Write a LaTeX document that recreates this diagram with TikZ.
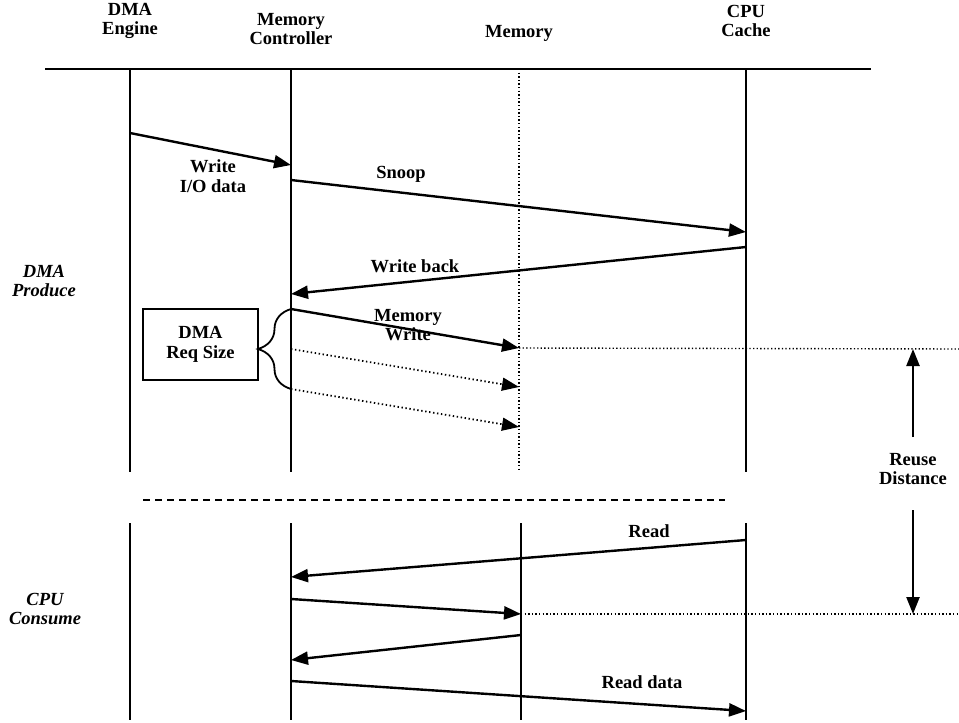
\documentclass[tikz,border=0pt]{standalone}
\usepackage{fontspec}
\setmainfont{Liberation Serif}
\usetikzlibrary{arrows.meta,decorations.pathreplacing}

\begin{document}
\begin{tikzpicture}[x=1pt,y=-1pt,>={Triangle[length=17pt,width=13pt]},
  font=\fontsize{18.5}{19.5}\selectfont\bfseries,
  life/.style={line width=1.8pt},
  msg/.style={->,line width=2.4pt},
  dotmsg/.style={->,line width=1.8pt,dash pattern=on 1.4pt off 2.6pt},
  guide/.style={line width=1.4pt,dash pattern=on 1.3pt off 2.3pt},
  txt/.style={align=center,inner sep=0pt}]
  \useasboundingbox (0,0) rectangle (959,723);

  % 标题
  \node[txt] (hdma) at (130,21) {DMA\\Engine};
  \node[txt] (hmc)  at (291,29) {Memory\\Controller};
  \node[txt] (hmem) at (519,33) {Memory};
  \node[txt] (hcpu) at (746,21) {CPU\\Cache};
  \draw[line width=2.4pt] (45,69) -- (871,69);

  % 生命线
  \draw[life] (130,69) -- (130,472);
  \draw[life] (291,69) -- (291,472);
  \draw[guide] (519,69) -- (519,471);
  \draw[life] (746,69) -- (746,472);
  \draw[line width=1.6pt,dash pattern=on 7pt off 5pt] (143,500) -- (725,500);
  \draw[life] (130,523) -- (130,720);
  \draw[life] (291,523) -- (291,720);
  \draw[life] (521,523) -- (521,720);
  \draw[life] (746,523) -- (746,720);

  % 左侧阶段
  \node[txt,font=\fontsize{18.5}{19.5}\selectfont\bfseries\itshape] (prod) at (44,281) {DMA\\Produce};
  \node[txt,font=\fontsize{18.5}{19.5}\selectfont\bfseries\itshape] (cons) at (45,609) {CPU\\Consume};

  % DMA 写入
  \coordinate (wr1) at (130,133); \coordinate (wr2) at (291,165);
  \coordinate (sn1) at (291,180); \coordinate (sn2) at (746,232);
  \coordinate (wb1) at (746,247); \coordinate (wb2) at (291,294);
  \draw[msg] (wr1) -- (wr2);
  \draw[msg] (sn1) -- (sn2);
  \draw[msg] (wb1) -- (wb2);
  \node[txt] (lwr) at (213,176) {Write\\I/O data};
  \node[txt] (lsn) at (401,174) {Snoop};
  \node[txt] (lwb) at (415,266) {Write back};

  % 内存写
  \coordinate (mw1) at (291,309); \coordinate (mw2) at (519,348);
  \coordinate (mw3) at (291,349); \coordinate (mw4) at (519,387);
  \coordinate (mw5) at (291,389); \coordinate (mw6) at (519,427);
  \draw[msg] (mw1) -- (mw2);
  \draw[dotmsg] (mw3) -- (mw4);
  \draw[dotmsg] (mw5) -- (mw6);
  \node[txt] (lmw) at (408,325) {Memory\\Write};

  % 请求大小
  \node[txt,draw,line width=1.8pt,minimum width=115pt,minimum height=71pt] (req) at (200.5,344.5) {DMA\\Req Size};
  \draw[line width=1.8pt,decorate,decoration={brace,amplitude=33pt}] (mw5) -- (mw1);

  % 重用距离
  \coordinate (rd1) at (959,349); \coordinate (rd2) at (959,614);
  \draw[guide] (mw2) -- (rd1);
  \node[txt] (reuse) at (913,469) {Reuse\\Distance};
  \coordinate (ru1) at (913,437); \coordinate (ru2) at (913,349);
  \coordinate (ru3) at (913,510); \coordinate (ru4) at (913,614);
  \draw[msg] (ru1) -- (ru2);
  \draw[msg] (ru3) -- (ru4);

  % CPU 读取
  \coordinate (rr1) at (746,540); \coordinate (rr2) at (291,577);
  \coordinate (mr1) at (291,599); \coordinate (mr2) at (521,614);
  \coordinate (mr3) at (521,635); \coordinate (mr4) at (291,660);
  \coordinate (dd1) at (291,681); \coordinate (dd2) at (746,711);
  \draw[msg] (rr1) -- (rr2);
  \draw[msg] (mr1) -- (mr2);
  \draw[msg] (mr3) -- (mr4);
  \draw[msg] (dd1) -- (dd2);
  \draw[guide] (mr2) -- (rd2);
  \node[txt] (lrr) at (649,531) {Read};
  \node[txt] (ldd) at (642,682) {Read data};
\end{tikzpicture}
\end{document}
